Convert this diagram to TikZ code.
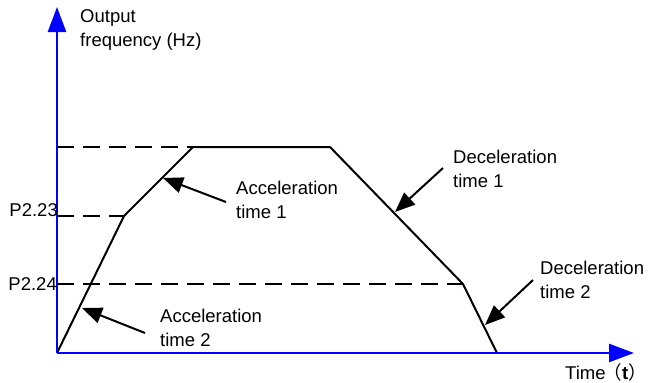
\documentclass[tikz,border=0pt]{standalone}
\usepackage{fontspec}
\setmainfont{Liberation Sans}
\newfontfamily\cjk{Noto Sans CJK SC}
\usetikzlibrary{arrows.meta}
\begin{document}
\begin{tikzpicture}[x=1pt,y=-1pt,
  lbl/.style={anchor=west,align=left,font=\fontsize{18.5}{24}\selectfont,inner sep=0pt},
  axisline/.style={draw=blue,line width=2.5pt,-{Triangle[length=25pt,width=18pt]}},
  curve/.style={line width=2pt,line join=round},
  guide/.style={line width=1.6pt,dash pattern=on 17pt off 9pt},
  pointer/.style={line width=2pt,-{Triangle[length=20pt,width=16pt]}}]
\useasboundingbox (0,0) rectangle (649,383);
% points
\coordinate (O) at (57,353);
\coordinate (ytop) at (57,7);
\coordinate (xend) at (634,353);
\coordinate (k1) at (124,216);
\coordinate (k2) at (193,147);
\coordinate (k3) at (330,147);
\coordinate (k4) at (463,284);
\coordinate (k5) at (497,353);
\coordinate (y1) at (57,147);
\coordinate (y2) at (57,216);
\coordinate (y3) at (57,284);
% dashed guides
\draw[guide] (y1) -- (k2);
\draw[guide] (y2) -- (k1);
\draw[guide] (y3) -- (k4);
% curve
\draw[curve] (O) -- (k1) -- (k2) -- (k3) -- (k4) -- (k5);
% axes
\draw[axisline] (O) -- (xend);
\draw[axisline] (O) -- (ytop);
% labels
\node[lbl] (yl) at (80,30) {Output\\frequency (Hz)};
\node[lbl,anchor=east] (p223) at (58,210) {P2.23};
\node[lbl,anchor=east] (p224) at (57,284) {P2.24};
\node[lbl] (a1) at (236,200) {Acceleration\\time 1};
\node[lbl] (a2) at (160,328) {Acceleration\\time 2};
\node[lbl] (d1) at (453,169) {Deceleration\\time 1};
\node[lbl] (d2) at (540,280) {Deceleration\\time 2};
\node[lbl,anchor=east] (tl) at (647,372) {Time\kern-2pt{\cjk （}\textbf{t}{\cjk ）}};
% pointer arrow ends
\coordinate (a1t) at (226,202); \coordinate (a1h) at (163,178);
\coordinate (a2t) at (145,333); \coordinate (a2h) at (82,308);
\coordinate (d1t) at (443,168); \coordinate (d1h) at (395,212);
\coordinate (d2t) at (533,280); \coordinate (d2h) at (485,325);
\draw[pointer] (a1t) -- (a1h);
\draw[pointer] (a2t) -- (a2h);
\draw[pointer] (d1t) -- (d1h);
\draw[pointer] (d2t) -- (d2h);
\end{tikzpicture}
\end{document}
